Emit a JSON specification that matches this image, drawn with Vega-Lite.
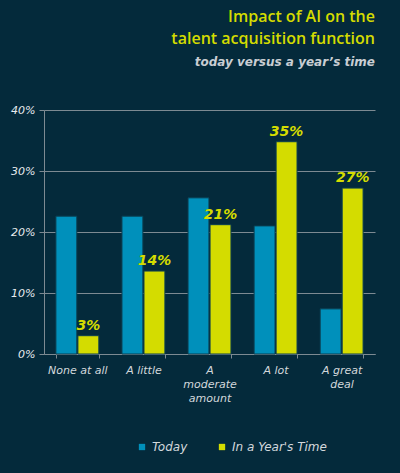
{
  "$schema": "https://vega.github.io/schema/vega-lite/v6.json",
  "width": 331,
  "height": 244,
  "autosize": {"type": "none"},
  "padding": {"left": 44, "top": 110, "right": 25, "bottom": 119},
  "background": "#042a3b",
  "title": {
    "text": ["Impact of AI on the", "talent acquisition function"],
    "subtitle": "today versus a year’s time",
    "anchor": "end",
    "frame": "group",
    "offset": 36,
    "font": "Open Sans",
    "fontSize": 16,
    "fontWeight": 600,
    "color": "#d4dc00",
    "lineHeight": 22,
    "subtitleFont": "DejaVu Sans",
    "subtitleFontSize": 12,
    "subtitleFontStyle": "italic",
    "subtitleFontWeight": "bold",
    "subtitleColor": "#c9ced3",
    "subtitlePadding": 10
  },
  "data": {
    "values": [
      {"category": "None at all", "series": "Today", "value": 0.226},
      {"category": "None at all", "series": "In a Year's Time", "value": 0.030},
      {"category": "A little", "series": "Today", "value": 0.226},
      {"category": "A little", "series": "In a Year's Time", "value": 0.136},
      {"category": "A moderate amount", "series": "Today", "value": 0.256},
      {"category": "A moderate amount", "series": "In a Year's Time", "value": 0.212},
      {"category": "A lot", "series": "Today", "value": 0.210},
      {"category": "A lot", "series": "In a Year's Time", "value": 0.348},
      {"category": "A great deal", "series": "Today", "value": 0.074},
      {"category": "A great deal", "series": "In a Year's Time", "value": 0.272}
    ]
  },
  "encoding": {
    "x": {
      "field": "category",
      "type": "nominal",
      "sort": ["None at all", "A little", "A moderate amount", "A lot", "A great deal"],
      "scale": {"paddingInner": 0.35, "paddingOuter": 0.18},
      "axis": {
        "title": null,
        "labelAngle": 0,
        "labelExpr": "datum.value == 'A moderate amount' ? ['A', 'moderate', 'amount'] : datum.value == 'A great deal' ? ['A great', 'deal'] : datum.value",
        "labelFont": "DejaVu Sans",
        "labelFontSize": 11,
        "labelFontStyle": "italic",
        "labelColor": "#d3d8dc",
        "labelLineHeight": 14,
        "labelPadding": 6,
        "domainColor": "#7d8a92",
        "tickColor": "#7d8a92",
        "tickBand": "extent",
        "tickSize": 4,
        "grid": false
      }
    },
    "xOffset": {"field": "series", "type": "nominal", "sort": ["Today", "In a Year's Time"], "scale": {"paddingInner": 0.05}},
    "y": {
      "field": "value",
      "type": "quantitative",
      "scale": {"domain": [0, 0.4]},
      "axis": {
        "title": null,
        "values": [0, 0.1, 0.2, 0.3, 0.4],
        "format": ".0%",
        "labelFont": "DejaVu Sans",
        "labelFontSize": 11,
        "labelFontStyle": "italic",
        "labelColor": "#e8ecef",
        "labelPadding": 4,
        "domainColor": "#7d8a92",
        "tickColor": "#7d8a92",
        "tickSize": 5,
        "gridColor": "#7d8a92",
        "gridWidth": 1
      }
    }
  },
  "layer": [
    {
      "mark": {"type": "bar", "stroke": "#0b3d4f", "strokeWidth": 1},
      "encoding": {
        "color": {
          "field": "series",
          "type": "nominal",
          "sort": ["Today", "In a Year's Time"],
          "scale": {"domain": ["Today", "In a Year's Time"], "range": ["#0090bb", "#d4dc00"]},
          "legend": {
            "title": null,
            "orient": "none",
            "legendX": 92,
            "legendY": 331,
            "direction": "horizontal",
            "symbolType": "square",
            "symbolSize": 40,
            "symbolStrokeWidth": 0,
            "labelFont": "DejaVu Sans",
            "labelFontSize": 12,
            "labelFontStyle": "italic",
            "labelColor": "#d3d8dc",
            "columnPadding": 28,
            "labelOffset": 4
          }
        }
      }
    },
    {
      "transform": [{"filter": "datum.series == \"In a Year's Time\""}],
      "mark": {"type": "text", "dy": -10, "font": "DejaVu Sans", "fontSize": 14, "fontStyle": "italic", "fontWeight": "bold", "color": "#d4dc00"},
      "encoding": {
        "text": {"field": "value", "type": "quantitative", "format": ".0%"},
        "color": {"value": "#d4dc00"}
      }
    }
  ],
  "config": {
    "view": {"stroke": null},
    "axis": {"domainWidth": 1}
  }
}
